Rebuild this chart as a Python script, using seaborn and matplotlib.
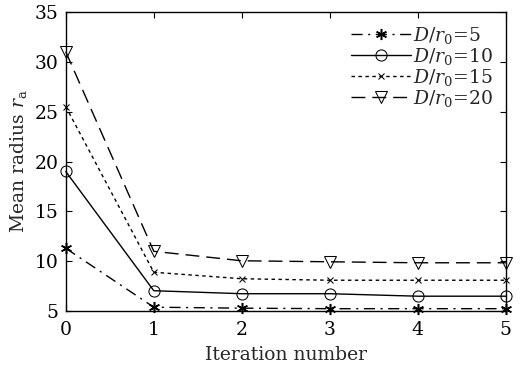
import matplotlib
matplotlib.use("Agg")
import matplotlib.pyplot as plt
import seaborn as sns
import pandas as pd

iterations = [0, 1, 2, 3, 4, 5]
r_d5 = [11.3, 5.4, 5.3, 5.25, 5.25, 5.25]
r_d10 = [19.0, 7.05, 6.75, 6.75, 6.5, 6.5]
r_d15 = [25.5, 8.9, 8.25, 8.1, 8.1, 8.1]
r_d20 = [31.0, 11.0, 10.05, 9.95, 9.85, 9.85]
labels = [r"$D/r_0$=5", r"$D/r_0$=10", r"$D/r_0$=15", r"$D/r_0$=20"]
xticks = [0, 1, 2, 3, 4, 5]
yticks = [5, 10, 15, 20, 25, 30, 35]

sns.set_style("ticks")
plt.rcParams["font.family"] = ["DejaVu Serif"]
plt.rcParams["mathtext.fontset"] = "dejavuserif"

fig = plt.figure(figsize=(5.22, 3.70), dpi=100)
ax = fig.add_axes([0.126, 0.159, 0.843, 0.809])

styles = [
    dict(marker=(6, 2, 0), linestyle=(0, (8, 4, 1.5, 4)), markersize=8, mew=1.1),
    dict(marker="o", linestyle="-", markersize=8, mfc="none"),
    dict(marker="x", linestyle=(0, (2.5, 2.5)), markersize=5, mfc="none"),
    dict(marker="v", linestyle=(0, (10, 5)), markersize=9, mfc="none"),
]
series = [r_d5, r_d10, r_d15, r_d20]
for vals, lab, st in zip(series, labels, styles):
    df = pd.DataFrame({"it": iterations, "r": vals})
    sns.lineplot(data=df, x="it", y="r", ax=ax, color="k", lw=1.0,
                 mec="k", label=lab, clip_on=False, zorder=3, **st)

ax.set_xlim(0, 5)
ax.set_ylim(5, 35)
ax.set_xticks(xticks)
ax.set_yticks(yticks)
ax.tick_params(direction="in", top=True, right=True, labelsize=13.5, length=4,
               width=0.8, colors="k")
ax.tick_params(axis="x", pad=7)
ax.tick_params(axis="y", pad=5)
for s in ax.spines.values():
    s.set_linewidth(1.0)
    s.set_color("k")
ax.set_xlabel("Iteration number", fontsize=13.5, labelpad=5)
ax.set_ylabel(r"Mean radius $r_\mathrm{a}$", fontsize=13.5, labelpad=4)

leg = ax.legend(loc="upper right", frameon=False, fontsize=13.5, handlelength=3.2,
                handletextpad=0.1, labelspacing=0.0, borderaxespad=0.3,
                markerfirst=True)

fig.savefig("out.png", dpi=100)
